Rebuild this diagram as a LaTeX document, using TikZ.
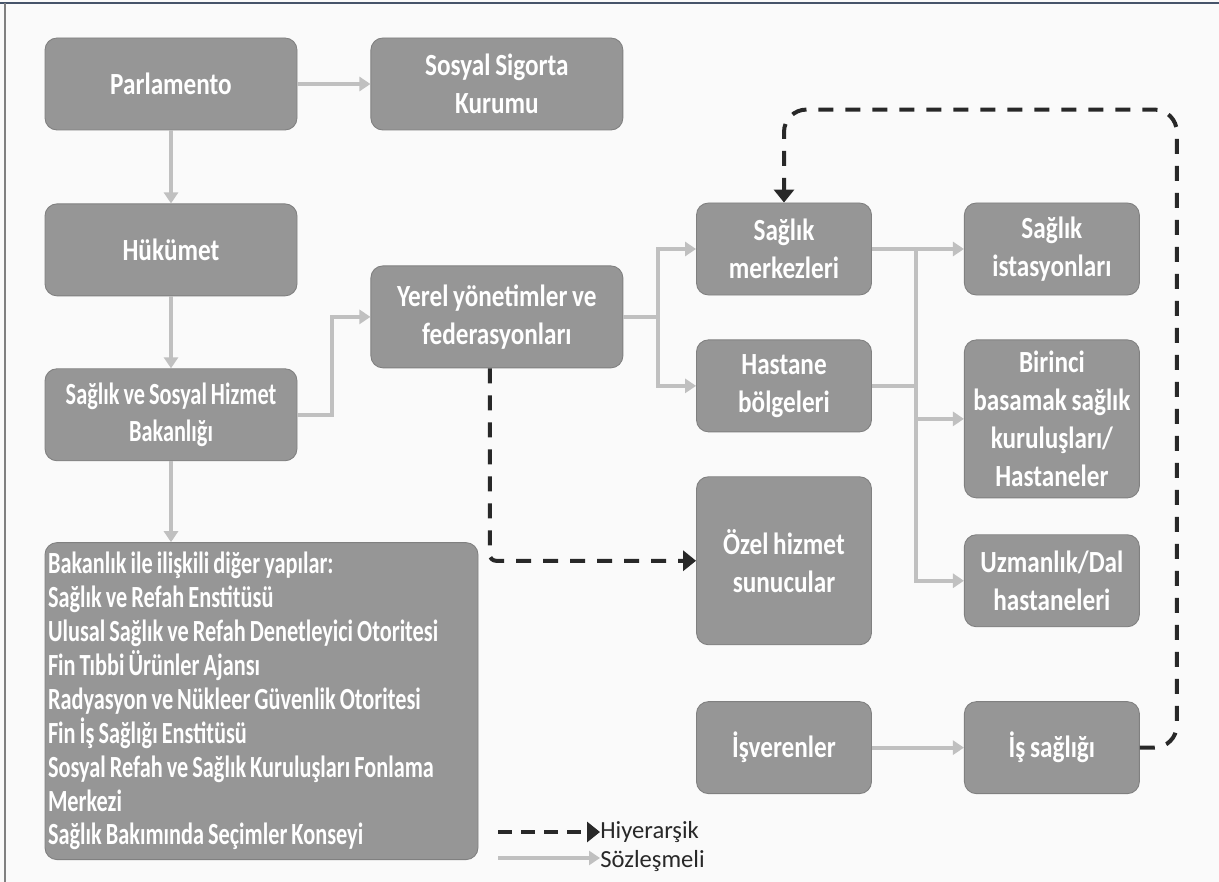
\documentclass[tikz,border=0pt]{standalone}
\usepackage{fontspec}
\setmainfont{Carlito}[FakeStretch=0.82, WordSpace=0.82]
\newfontfamily\narrowfont{Carlito}[FakeStretch=0.725, WordSpace=0.8]
\newfontfamily\legendfont{Carlito}
\usetikzlibrary{positioning, arrows.meta}

\definecolor{paper}{RGB}{250,250,250}
\definecolor{boxgray}{RGB}{150,150,150}
\definecolor{boxline}{RGB}{128,128,128}
\definecolor{linkgray}{RGB}{192,192,192}
\definecolor{hierdark}{RGB}{40,40,40}
\definecolor{framecol}{RGB}{70,84,106}

\begin{document}
\begin{tikzpicture}[
    boxbase/.style={rectangle, rounded corners=0.24cm, draw=boxline, fill=boxgray, line width=0.5pt,
                    text=white},
    unit/.style={boxbase, align=center, font=\fontsize{17.5}{21.5}\selectfont\bfseries,
                 inner ysep=0.1cm, minimum width=5.04cm, minimum height=1.84cm},
    small/.style={unit, minimum width=3.5cm},
    narrow/.style={font=\narrowfont\fontsize{17.5}{21.5}\selectfont\bfseries},
    listbox/.style={boxbase, inner xsep=0.06cm, inner ysep=0pt,
                    font=\narrowfont\fontsize{17.5}{19.3}\selectfont\bfseries,
                    minimum width=8.66cm, minimum height=6.34cm},
    contract/.style={draw=linkgray, line width=0.08cm, -{Triangle[length=0.22cm, width=0.28cm]}},
    hier/.style={draw=hierdark, line width=0.08cm, dash pattern=on 0.3cm off 0.24cm,
                 -{Triangle[length=0.26cm, width=0.4cm]}},
    legendtext/.style={anchor=west, inner sep=0pt, text=hierdark, font=\legendfont\fontsize{14}{16}\selectfont}
  ]
    \useasboundingbox[fill=paper] (0,0) rectangle (24.38,-17.64);
    \draw[framecol, line width=0.8pt] (0,-0.06) -- (24.38,-0.06);
    \draw[gray, line width=0.6pt] (0.1,-0.06) -- (0.1,-17.64);

    % left column
    \node[unit] (parl) at (3.42,-1.68) {Parlamento};
    \node[unit] (ssk) [right=1.46cm of parl] {Sosyal Sigorta\\Kurumu};
    \node[unit] (huk) [below=1.46cm of parl] {Hükümet};
    \node[unit, narrow] (bak) [below=1.44cm of huk] {Sağlık ve Sosyal Hizmet\\Bakanlığı};
    \node[listbox] (diger) [below=1.62cm of bak.south west, anchor=north west]
      {\parbox{8.54cm}{\raggedright
       Bakanlık ile ilişkili diğer yapılar:\\
       Sağlık ve Refah Enstitüsü\\
       Ulusal Sağlık ve Refah Denetleyici Otoritesi\\
       Fin Tıbbi Ürünler Ajansı\\
       Radyasyon ve Nükleer Güvenlik Otoritesi\\
       Fin İş Sağlığı Enstitüsü\\
       Sosyal Refah ve Sağlık Kuruluşları Fonlama\\
       Merkezi\\
       Sağlık Bakımında Seçimler Konseyi}};
    \node[unit, minimum height=2.04cm] (yerel) [below=2.7cm of ssk] {Yerel yönetimler ve\\federasyonları};

    % middle column
    \node[small] (smerk) at (15.68,-4.98) {Sağlık\\merkezleri};
    \node[small] (hbolge) [below=0.88cm of smerk] {Hastane\\bölgeleri};
    \node[small, minimum height=3.36cm] (ozel) [below=0.88cm of hbolge] {Özel hizmet\\sunucular};
    \node[small] (isv) [below=1.12cm of ozel] {İşverenler};

    % right column
    \node[small] (sist) [right=1.84cm of smerk] {Sağlık\\istasyonları};
    \node[small, minimum height=3.16cm] (birinci) [below=0.88cm of sist] {Birinci\\basamak sağlık\\kuruluşları/\\Hastaneler};
    \node[small] (uzman) [below=0.72cm of birinci] {Uzmanlık/Dal\\hastaneleri};
    \node[small] (issag) [right=1.84cm of isv] {İş sağlığı};

    % contractual links
    \draw[contract] (parl) -- (ssk);
    \draw[contract] (parl) -- (huk);
    \draw[contract] (huk) -- (bak);
    \draw[contract] (bak.south) -- (bak.south |- diger.north);
    \draw[contract] (bak.east) -- ++(0.7,0) |- (yerel.west);
    \draw[contract] (yerel.east) -- ++(0.7,0) coordinate (ysplit) |- (smerk.west);
    \draw[contract] (ysplit) |- (hbolge.west);
    \draw[contract] (smerk.east) -- ++(0.88,0) coordinate (msplit) -- (sist.west);
    \draw[contract] (msplit) |- (birinci.west);
    \draw[contract] (hbolge.east) -- ++(0.88,0) |- (uzman.west);
    \draw[contract] (isv) -- (issag);

    % hierarchical links
    \draw[hier, rounded corners=0.12cm] ([xshift=-0.14cm]yerel.south) |- (ozel.west);
    \draw[hier, rounded corners=0.45cm] (issag.east) -- ++(0.74,0) |- ([yshift=1.86cm]smerk.north) -- (smerk.north);

    % legend
    \node[legendtext] (hlab) at (12.0,-16.64) {Hiyerarşik};
    \node[legendtext] (slab) at (12.0,-17.22) {Sözleşmeli};
    \coordinate (hstart) at (9.96,-16.64);
    \coordinate (sstart) at (9.96,-17.16);
    \draw[hier, line width=0.07cm, dash pattern=on 0.28cm off 0.18cm] (hstart) -- (hlab.west);
    \draw[contract] (sstart) -- (sstart -| hlab.west);
\end{tikzpicture}
\end{document}
